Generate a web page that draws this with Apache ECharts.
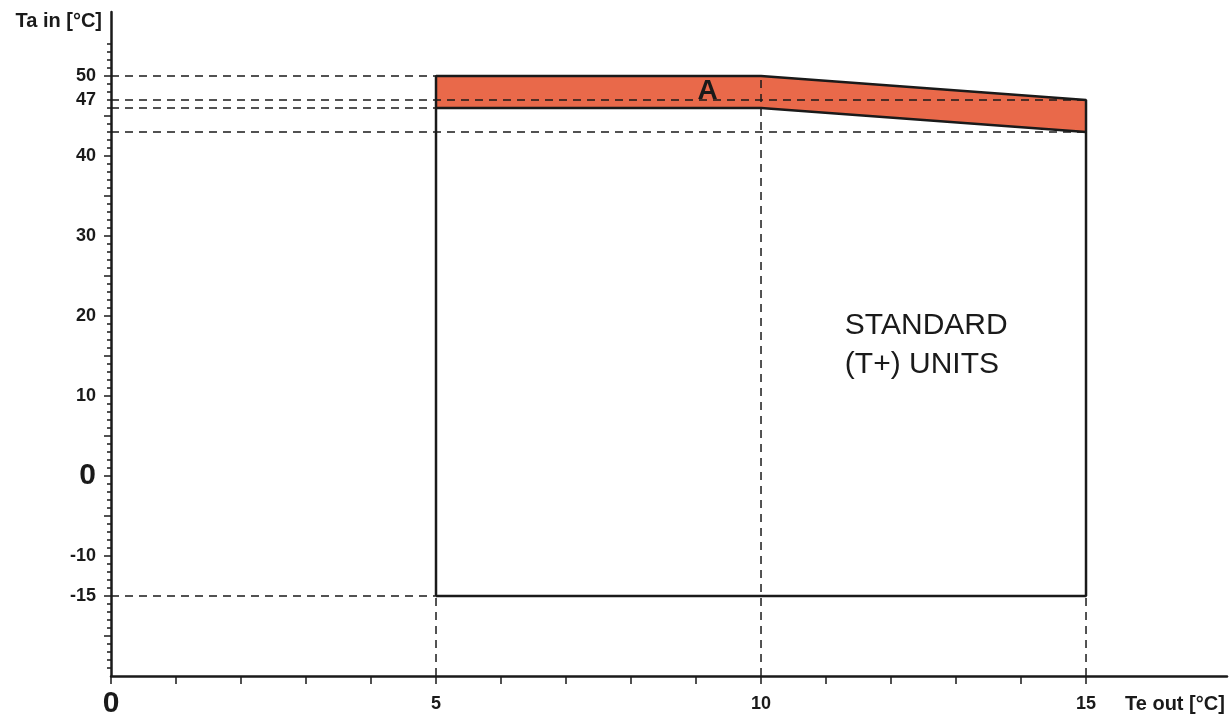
<!DOCTYPE html>
<html>
<head>
<meta charset="utf-8">
<script src="https://cdn.jsdelivr.net/npm/echarts@6/dist/echarts.min.js"></script>
<style>
html,body{margin:0;padding:0;background:#fff;}
#chart{width:1232px;height:720px;}
</style>
</head>
<body>
<div id="chart"></div>
<script>
// ---- data ----
const xTickValues = [0,1,2,3,4,5,6,7,8,9,10,11,12,13,14,15];
const xLabelValues = [0,5,10,15];
const yLabelValues = [-15,-10,0,10,20,30,40,47,50];
const yMajorTickValues = [-20,-15,-10,-5,0,5,10,15,20,25,30,35,40,45,50];
const yMinorTickValues = [];
for (let v = -24; v <= 54; v++) yMinorTickValues.push(v);

// operating envelope (standard units)
const envelopeX = [5, 5, 10, 15, 15, 5];
const envelopeY = [-15, 50, 50, 47, -15, -15];
// zone A
const zoneX = [5, 10, 15];
const zoneTopY = [50, 50, 47];
const zoneBottomY = [46, 46, 43];
// dashed guides: [y, xFrom, xTo]
const hGuides = [[50, 0, 5], [47, 0, 15], [46, 0, 5], [43, 0, 15], [-15, 0, 5]];
// dashed guides: [x, yFrom, yTo]
const vGuides = [[5, -25, -15], [10, -25, 50], [15, -25, -15]];
// text annotations: [x, y, text]
const zoneLabel = [[9.18, 48.1, 'A']];
const areaLabels = [[11.29, 18.75, 'STANDARD'], [11.29, 13.9, '(T+) UNITS']];

const xMin = 0, xMax = 17.169, yMin = -25, yMax = 58;
const FONT = 'Liberation Sans, Arial, sans-serif';
const INK = '#1a1a1a';

const chart = echarts.init(document.getElementById('chart'));

const guideSeries = [];
hGuides.forEach(g => guideSeries.push({
  type: 'line', data: [[g[1], g[0]], [g[2], g[0]]], symbol: 'none', silent: true, z: 3,
  lineStyle: { color: INK, width: 1.5, type: [8, 6] }
}));
vGuides.forEach(g => guideSeries.push({
  type: 'line', data: [[g[0], g[1]], [g[0], g[2]]], symbol: 'none', silent: true, z: 3,
  lineStyle: { color: INK, width: 1.5, type: [8, 6] }
}));

const zonePoly = zoneX.map((x, i) => [x, zoneTopY[i]])
  .concat(zoneX.map((x, i) => [x, zoneBottomY[i]]).reverse());

const option = {
  animation: false,
  backgroundColor: '#fff',
  grid: { left: 111, right: 5, top: 12, bottom: 44, containLabel: false },
  xAxis: {
    type: 'value', min: xMin, max: xMax,
    splitLine: { show: false },
    axisLine: { show: true, onZero: false, lineStyle: { color: INK, width: 2.5 } },
    axisTick: { show: true, customValues: xTickValues, length: 8, inside: false, lineStyle: { color: INK, width: 1.5 } },
    axisLabel: {
      show: true, customValues: xLabelValues, margin: 13,
      fontFamily: FONT, fontWeight: 'bold', color: INK,
      formatter: v => (v === 0 ? '{big|0}' : '{n|' + v + '}'),
      rich: {
        big: { fontSize: 30, fontWeight: 'bold', fontFamily: FONT, color: INK },
        n: { fontSize: 18, fontWeight: 'bold', fontFamily: FONT, color: INK, padding: [6, 0, 0, 0] }
      }
    }
  },
  yAxis: [{
    type: 'value', min: yMin, max: yMax, position: 'left',
    splitLine: { show: false },
    axisLine: { show: true, onZero: false, lineStyle: { color: INK, width: 2.5 } },
    axisTick: { show: true, customValues: yMajorTickValues, length: 7, lineStyle: { color: INK, width: 1.5 } },
    axisLabel: {
      show: true, customValues: yLabelValues, margin: 15,
      fontFamily: FONT, fontWeight: 'bold', color: INK,
      formatter: v => (v === 0 ? '{big|0}' : '{n|' + v + '}'),
      rich: {
        big: { fontSize: 30, fontWeight: 'bold', fontFamily: FONT, color: INK },
        n: { fontSize: 18, fontWeight: 'bold', fontFamily: FONT, color: INK }
      }
    }
  }, {
    type: 'value', min: yMin, max: yMax, position: 'left',
    splitLine: { show: false },
    axisLine: { show: false, onZero: false },
    axisTick: { show: true, customValues: yMinorTickValues, length: 4, lineStyle: { color: INK, width: 1.5 } },
    axisLabel: { show: false }
  }],
  graphic: [
    { type: 'text', right: 1232 - 102, top: 11,
      style: { text: 'Ta in [°C]', font: 'bold 20px ' + FONT, fill: INK } },
    { type: 'text', left: 1125, top: 694,
      style: { text: 'Te out [°C]', font: 'bold 20px ' + FONT, fill: INK } }
  ],
  series: [
    {
      type: 'custom', z: 1, silent: true,
      data: [0],
      renderItem: (params, api) => ({
        type: 'polygon',
        shape: { points: zonePoly.map(p => api.coord(p)) },
        style: { fill: '#E9694A', stroke: 'none' }
      })
    },
    ...guideSeries,
    {
      type: 'line', z: 5, symbol: 'none', silent: true,
      data: envelopeX.map((x, i) => [x, envelopeY[i]]),
      lineStyle: { color: INK, width: 2.5 }
    },
    {
      type: 'line', z: 5, symbol: 'none', silent: true,
      data: zoneX.map((x, i) => [x, zoneBottomY[i]]),
      lineStyle: { color: INK, width: 2.5 }
    },
    {
      type: 'scatter', z: 6, symbolSize: 0, silent: true,
      itemStyle: { opacity: 1 },
      data: zoneLabel.map(d => ({ value: [d[0], d[1]], name: d[2] })),
      label: { show: true, position: 'inside', formatter: p => p.name, opacity: 1,
        fontFamily: FONT, fontWeight: 'bold', fontSize: 28, color: INK }
    },
    {
      type: 'scatter', z: 6, symbolSize: 0, silent: true,
      itemStyle: { opacity: 1 },
      data: areaLabels.map(d => ({ value: [d[0], d[1]], name: d[2] })),
      label: { show: true, position: 'right', distance: 0, formatter: p => p.name, opacity: 1,
        fontFamily: FONT, fontWeight: 'normal', fontSize: 30, color: INK }
    }
  ]
};
chart.setOption(option);
</script>
</body>
</html>
